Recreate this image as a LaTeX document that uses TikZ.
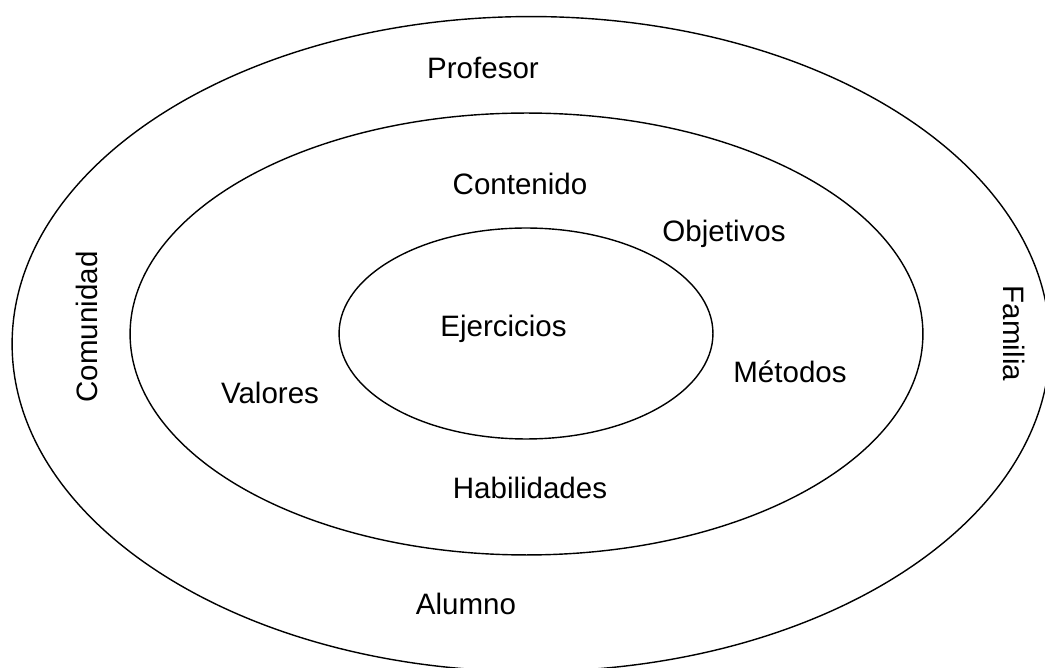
\documentclass[tikz,border=0pt]{standalone}
\usepackage{fontspec}
\setmainfont{Liberation Sans}

\begin{document}
\begin{tikzpicture}[x=0.02cm,y=-0.02cm,
    ring/.style={draw=black,line width=0.8pt},
    lbl/.style={anchor=base,inner sep=0pt,font=\fontsize{16.8pt}{20pt}\selectfont}]
% Keep the page the size of the original picture
\clip (0,0) rectangle (1045,668);
% Three nested rings
\draw[ring] (531,344) ellipse [x radius=10.38cm,y radius=6.55cm];
\draw[ring] (526.5,334) ellipse [x radius=7.93cm,y radius=4.42cm];
\draw[ring] (526,333.5) ellipse [x radius=3.74cm,y radius=2.11cm];
% Outer ring
\node[lbl] (profesor) at (483,79) {Profesor};
\node[lbl] (alumno) at (466,615) {Alumno};
\node[lbl,rotate=90] (comunidad) at (97,327) {Comunidad};
\node[lbl,rotate=-90] (familia) at (1003,333.5) {Familia};
% Middle ring
\node[lbl] (contenido) at (520,195) {Contenido};
\node[lbl] (objetivos) at (724,242) {Objetivos};
\node[lbl] (metodos) at (790,383) {Métodos};
\node[lbl] (valores) at (270,404) {Valores};
\node[lbl] (habilidades) at (530,499) {Habilidades};
% Inner ring
\node[lbl] (ejercicios) at (503.5,337) {Ejercicios};
\end{tikzpicture}
\end{document}
